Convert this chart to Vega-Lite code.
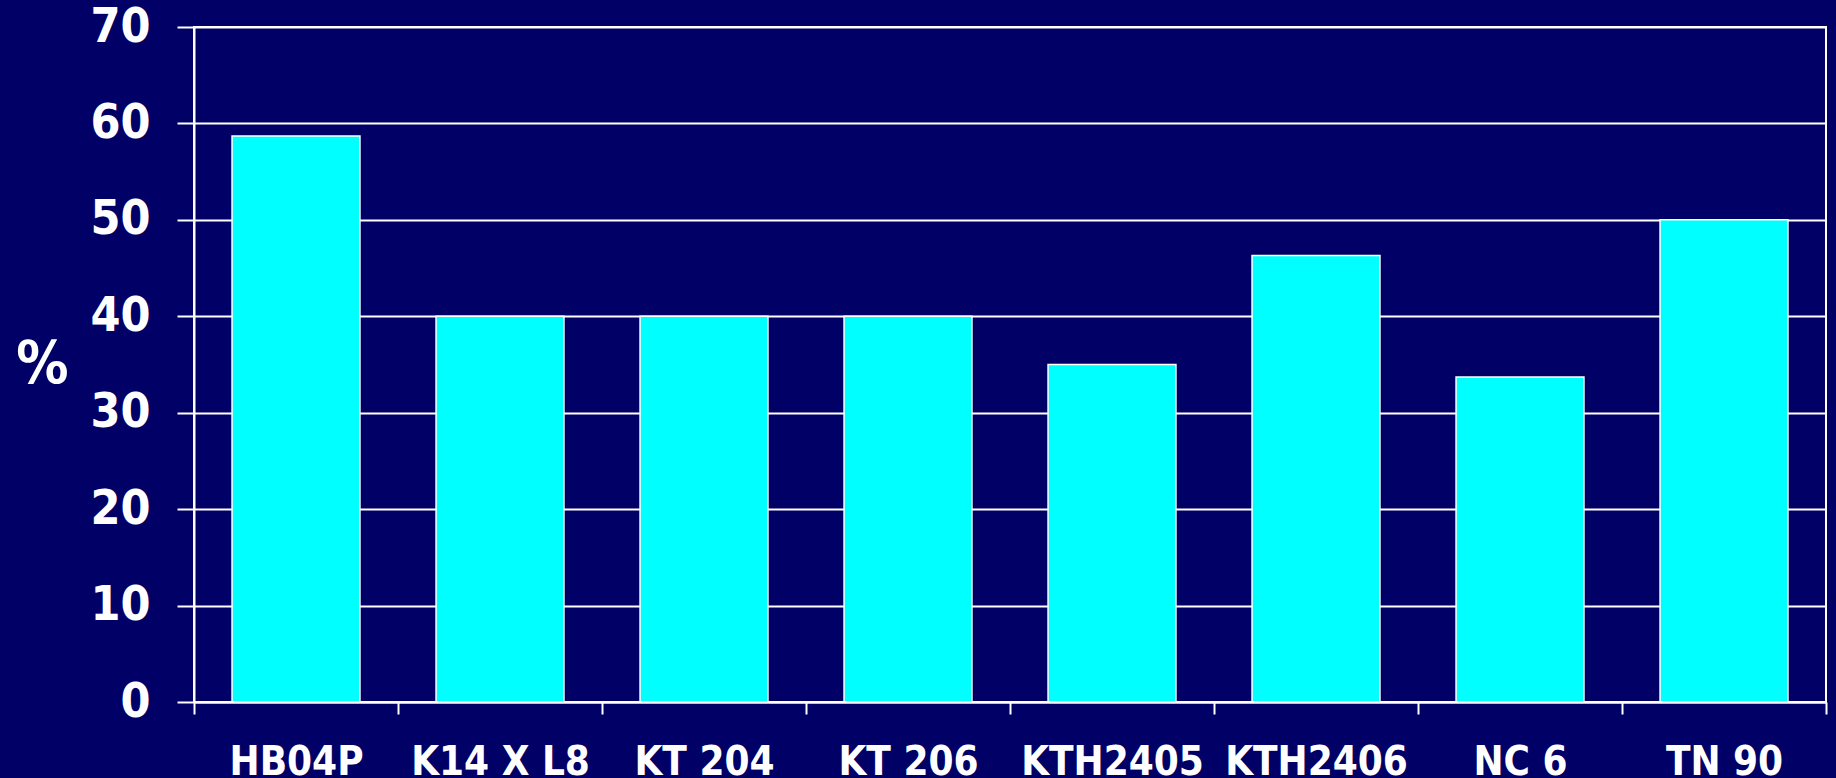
{
  "$schema": "https://vega.github.io/schema/vega-lite/v6.json",
  "autosize": "none",
  "width": 1632,
  "height": 675,
  "padding": {"left": 194, "top": 27, "right": 10, "bottom": 76},
  "background": "#000066",
  "config": {
    "view": {"stroke": "#ffffff", "strokeWidth": 2},
    "font": "DejaVu Sans Condensed"
  },
  "data": {
    "values": [
      {"line": "HB04P", "pct": 58.7},
      {"line": "K14 X L8", "pct": 40},
      {"line": "KT 204", "pct": 40},
      {"line": "KT 206", "pct": 40},
      {"line": "KTH2405", "pct": 35},
      {"line": "KTH2406", "pct": 46.3},
      {"line": "NC 6", "pct": 33.7},
      {"line": "TN 90", "pct": 50}
    ]
  },
  "mark": {"type": "bar", "color": "#00ffff", "stroke": "#ffffff", "strokeWidth": 1.5, "width": {"band": 0.627}},
  "encoding": {
    "x": {
      "field": "line",
      "type": "nominal",
      "sort": null,
      "scale": {"paddingInner": 0, "paddingOuter": 0},
      "axis": {
        "title": null,
        "labelAngle": 0,
        "labelLimit": 0,
        "labelFont": "DejaVu Sans Condensed",
        "labelFontWeight": "bold",
        "labelFontSize": 40,
        "labelColor": "#ffffff",
        "labelPadding": 28,
        "labelBaseline": "top",
        "tickBand": "extent",
        "tickSize": 12,
        "tickColor": "#ffffff",
        "tickWidth": 2,
        "domainColor": "#ffffff",
        "domainWidth": 2,
        "grid": false
      }
    },
    "y": {
      "field": "pct",
      "type": "quantitative",
      "scale": {"domain": [0, 70], "nice": false},
      "axis": {
        "values": [0, 10, 20, 30, 40, 50, 60, 70],
        "title": "%",
        "titleAngle": 0,
        "titleX": -152,
        "titleY": 338,
        "titleAlign": "center",
        "titleBaseline": "middle",
        "titleFont": "DejaVu Sans Condensed",
        "titleFontWeight": "bold",
        "titleFontSize": 58,
        "titleColor": "#ffffff",
        "labelFont": "DejaVu Sans Condensed",
        "labelFontWeight": "bold",
        "labelFontSize": 48,
        "labelColor": "#ffffff",
        "labelPadding": 27,
        "tickSize": 17,
        "tickColor": "#ffffff",
        "tickWidth": 2,
        "domainColor": "#ffffff",
        "domainWidth": 2,
        "grid": true,
        "gridColor": "#ffffff",
        "gridWidth": 2,
        "gridOpacity": 1
      }
    }
  }
}
